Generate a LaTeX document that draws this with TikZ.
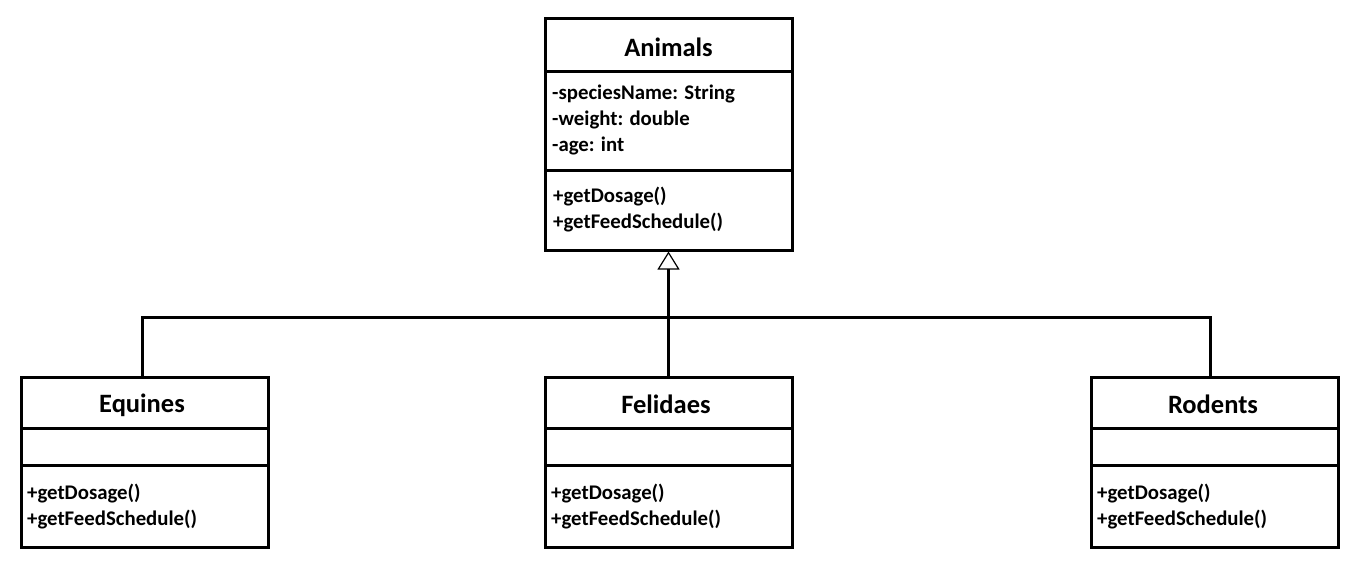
\documentclass[tikz,border=0pt]{standalone}
\usepackage{fontspec}
\setmainfont{Carlito}
\usetikzlibrary{arrows.meta}
\tikzset{
  classbox/.style={draw=black, line width=3pt, fill=white, minimum width=247pt, inner sep=0pt},
  divider/.style={black, line width=3pt},
  titletext/.style={font=\fontsize{26.5}{30}\selectfont\bfseries, inner sep=0pt},
  membertext/.style={font=\fontsize{20.8}{26}\selectfont\bfseries, inner sep=0pt, anchor=west, align=left},
  link/.style={black, line width=3pt},
  inherit/.style={-{Triangle[open, length=18pt, width=22pt, line width=1.2pt, fill=white]}},
}
\begin{document}
\begin{tikzpicture}[x=1pt,y=-1pt]
\useasboundingbox (0,0) rectangle (1362,571);
\fill[white] (0,0) rectangle (1362,571);

% Animals
\node[classbox, minimum height=232pt] (animals) at (668.5,134) {};
\draw[divider] (545,71.5) -- (792,71.5);
\draw[divider] (545,170) -- (792,170);
\node[titletext] (animalsT) at (668.5,47.5) {Animals};
\node[membertext] (animalsA) at (552,93.5) {-speciesName: String};
\node[membertext] (animalsB) at (552,119.5) {-weight: double};
\node[membertext] (animalsC) at (552,145.5) {-age: int};
\node[membertext] (animalsD) at (553,196.5) {+getDosage()};
\node[membertext] (animalsE) at (553,222.5) {+getFeedSchedule()};

% Equines
\node[classbox, minimum height=170pt] (equines) at (144.5,462.5) {};
\draw[divider] (21,428) -- (268,428);
\draw[divider] (21,465.5) -- (268,465.5);
\node[titletext] (equinesT) at (142,405.5) {Equines};
\node[membertext] (equinesA) at (27,493.5) {+getDosage()};
\node[membertext] (equinesB) at (27,519.5) {+getFeedSchedule()};

% Felidaes
\node[classbox, minimum height=170pt] (felidaes) at (668.5,462.5) {};
\draw[divider] (545,428) -- (792,428);
\draw[divider] (545,465.5) -- (792,465.5);
\node[titletext] (felidaesT) at (666,404.5) {Felidaes};
\node[membertext] (felidaesA) at (551,493.5) {+getDosage()};
\node[membertext] (felidaesB) at (551,519.5) {+getFeedSchedule()};

% Rodents
\node[classbox, minimum height=170pt] (rodents) at (1214.5,462.5) {};
\draw[divider] (1091,428) -- (1338,428);
\draw[divider] (1091,465.5) -- (1338,465.5);
\node[titletext] (rodentsT) at (1213,404.5) {Rodents};
\node[membertext] (rodentsA) at (1097,493.5) {+getDosage()};
\node[membertext] (rodentsB) at (1097,519.5) {+getFeedSchedule()};

% connectors
\coordinate (junction) at (668.5,317);
\coordinate (eqtop) at (142,377);
\coordinate (rotop) at (1210,377);
\draw[link] (eqtop) |- (junction) -| (rotop);
\draw[link, inherit] (felidaes.north) -- (animals.south);
\end{tikzpicture}
\end{document}
